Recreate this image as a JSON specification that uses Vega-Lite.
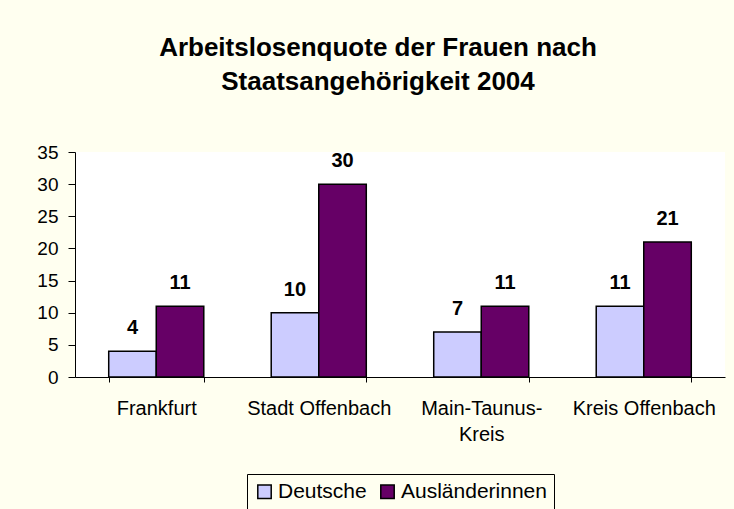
{
  "$schema": "https://vega.github.io/schema/vega-lite/v6.json",
  "autosize": "none",
  "width": 650,
  "height": 225,
  "padding": {"left": 75, "top": 152, "right": 9, "bottom": 132},
  "background": "#FFFFF0",
  "title": {
    "text": ["Arbeitslosenquote der Frauen nach", "Staatsangehörigkeit 2004"],
    "font": "Liberation Sans",
    "fontSize": 26,
    "fontWeight": "bold",
    "color": "black",
    "lineHeight": 34,
    "anchor": "middle",
    "dx": -22,
    "offset": 48
  },
  "config": {
    "view": {"fill": "white", "stroke": null},
    "font": "Liberation Sans"
  },
  "data": {
    "values": [
      {"Region": "Frankfurt", "Gruppe": "Deutsche", "Quote": 4},
      {"Region": "Frankfurt", "Gruppe": "Ausländerinnen", "Quote": 11},
      {"Region": "Stadt Offenbach", "Gruppe": "Deutsche", "Quote": 10},
      {"Region": "Stadt Offenbach", "Gruppe": "Ausländerinnen", "Quote": 30},
      {"Region": "Main-Taunus-Kreis", "Gruppe": "Deutsche", "Quote": 7},
      {"Region": "Main-Taunus-Kreis", "Gruppe": "Ausländerinnen", "Quote": 11},
      {"Region": "Kreis Offenbach", "Gruppe": "Deutsche", "Quote": 11},
      {"Region": "Kreis Offenbach", "Gruppe": "Ausländerinnen", "Quote": 21}
    ]
  },
  "encoding": {
    "x": {
      "field": "Region",
      "type": "nominal",
      "sort": ["Frankfurt", "Stadt Offenbach", "Main-Taunus-Kreis", "Kreis Offenbach"],
      "scale": {"paddingInner": 0.415, "paddingOuter": 0.2075},
      "axis": {
        "title": null,
        "labelAngle": 0,
        "labelFontSize": 20,
        "labelColor": "black",
        "labelLineHeight": 26,
        "labelPadding": 16,
        "labelBaseline": "top",
        "labelLimit": 300,
        "tickBand": "extent",
        "tickSize": 5,
        "tickColor": "black",
        "domainColor": "black",
        "labelExpr": "datum.value == 'Main-Taunus-Kreis' ? ['Main-Taunus-', 'Kreis'] : datum.value"
      }
    },
    "xOffset": {
      "field": "Gruppe",
      "type": "nominal",
      "sort": ["Deutsche", "Ausländerinnen"],
      "scale": {"paddingInner": 0, "paddingOuter": 0}
    },
    "y": {
      "field": "Quote",
      "type": "quantitative",
      "scale": {"domain": [0, 35], "nice": false},
      "axis": {
        "title": null,
        "values": [0, 5, 10, 15, 20, 25, 30, 35],
        "grid": false,
        "labelFontSize": 19,
        "labelColor": "black",
        "tickSize": 7,
        "tickColor": "black",
        "domainColor": "black",
        "labelPadding": 10
      }
    }
  },
  "layer": [
    {
      "mark": {"type": "bar", "stroke": "black", "strokeWidth": 1.5},
      "encoding": {
        "color": {
          "field": "Gruppe",
          "type": "nominal",
          "sort": ["Deutsche", "Ausländerinnen"],
          "scale": {"domain": ["Deutsche", "Ausländerinnen"], "range": ["#CCCCFF", "#660066"]},
          "legend": {
            "title": null,
            "orient": "none",
            "legendX": 172,
            "legendY": 322,
            "direction": "horizontal",
            "columns": 2,
            "symbolType": "square",
            "symbolSize": 180,
            "symbolStrokeColor": "black",
            "symbolStrokeWidth": 1.5,
            "labelFontSize": 21,
            "labelColor": "black",
            "labelOffset": 3,
            "labelLimit": 300,
            "columnPadding": 10,
            "strokeColor": "black",
            "fillColor": "#FFFFF0",
            "padding": 7
          }
        }
      }
    },
    {
      "mark": {"type": "text", "fontWeight": "bold", "fontSize": 20, "dy": -17, "baseline": "alphabetic", "color": "black"},
      "encoding": {
        "text": {"field": "Quote", "type": "quantitative"}
      }
    }
  ]
}
